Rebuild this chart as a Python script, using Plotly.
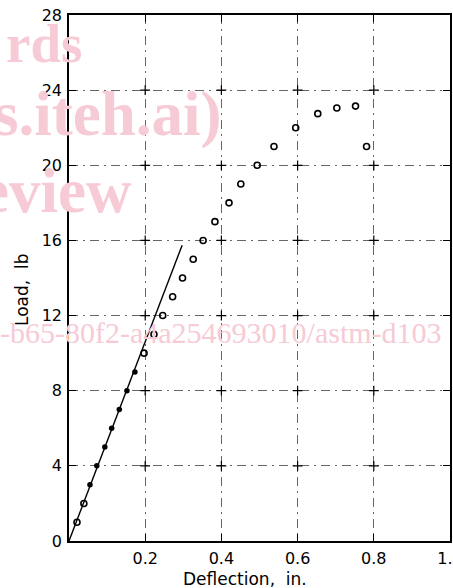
import plotly.graph_objects as go

# ---- data ----
deflection = [0.021, 0.039, 0.055, 0.073, 0.094, 0.112, 0.132, 0.152, 0.173,
              0.197, 0.223, 0.246, 0.272, 0.298, 0.326, 0.352, 0.383, 0.420,
              0.451, 0.494, 0.538, 0.595, 0.653, 0.703, 0.752, 0.781]
load = [1, 2, 3, 4, 5, 6, 7, 8, 9, 10, 11, 12, 13, 14, 15, 16, 17, 18, 19,
        20, 21, 22, 22.75, 23.05, 23.15, 21]
filled_idx = [2, 3, 4, 5, 6, 7, 8]          # points that look solid
fit_x = [0.0, 0.297]
fit_y = [0.0, 15.75]

x_ticks = [0.2, 0.4, 0.6, 0.8, 1.0]
x_tick_text = ["0.2", "0.4", "0.6", "0.8", "1.0"]
y_ticks = [0, 4, 8, 12, 16, 20, 24, 28]
y_tick_text = ["0", "4", "8", "12", "16", "20", "24", "28"]

# ---- layout geometry ----
W, H = 453, 588
L, R, T, B = 69, 3, 15, 47
PW, PH = W - L - R, H - T - B


def px_x(p):
    return (p - L) / PW


def px_y(p):
    return (H - B - p) / PH


fig = go.Figure()

# fitted straight line
fig.add_trace(go.Scatter(x=fit_x, y=fit_y, mode="lines",
                         line=dict(color="black", width=1.4),
                         hoverinfo="skip", showlegend=False))

# grid crosses
cx = [x for x in x_ticks[:-1] for y in y_ticks[1:-1]]
cy = [y for x in x_ticks[:-1] for y in y_ticks[1:-1]]
fig.add_trace(go.Scatter(x=cx, y=cy, mode="markers",
                         marker=dict(symbol="cross-thin", size=7, color="black",
                                     line=dict(color="black", width=1.2)),
                         hoverinfo="skip", showlegend=False))

# open data points
open_x = [d for i, d in enumerate(deflection) if i not in filled_idx]
open_y = [v for i, v in enumerate(load) if i not in filled_idx]
fig.add_trace(go.Scatter(x=open_x, y=open_y, mode="markers",
                         marker=dict(symbol="circle-open", size=6, color="black",
                                     line=dict(color="black", width=1.6)),
                         showlegend=False))
# filled data points
fig.add_trace(go.Scatter(x=[deflection[i] for i in filled_idx],
                         y=[load[i] for i in filled_idx], mode="markers",
                         marker=dict(symbol="circle", size=5.5, color="black"),
                         showlegend=False))

axis_common = dict(showline=True, linecolor="black", linewidth=1.6,
                   mirror="ticks", ticks="inside", ticklen=7, tickwidth=1.2,
                   tickcolor="black", showgrid=True, gridcolor="#666",
                   gridwidth=0.8, griddash="9px,5px,2px,5px", zeroline=False,
                   ticklabeloverflow="allow", automargin=False,
                   tickfont=dict(family="DejaVu Sans", size=16, color="black"))

fig.update_xaxes(range=[0, 1.0], tickvals=x_ticks, ticktext=x_tick_text,
                 ticklabelstandoff=2, **axis_common)
fig.update_yaxes(range=[0, 28], tickvals=y_ticks, ticktext=y_tick_text,
                 ticklabelstandoff=2, **axis_common)

pink = "#f6cbd5"
wm_font = "Liberation Serif"
annotations = [
    dict(text="<b>rds</b>", x=px_x(84), y=px_y(44), xanchor="right",
         yanchor="middle", font=dict(family=wm_font, size=55, color=pink)),
    dict(text="<b>s.iteh.ai)</b>", x=px_x(223), y=px_y(114), xanchor="right",
         yanchor="middle", font=dict(family=wm_font, size=63, color=pink)),
    dict(text="<b>eview</b>", x=px_x(134), y=px_y(191), xanchor="right",
         yanchor="middle", font=dict(family=wm_font, size=63, color=pink)),
    dict(text="-b65-80f2-a4a254693010/astm-d103", x=px_x(-2), y=px_y(332),
         xanchor="left", yanchor="middle",
         font=dict(family=wm_font, size=30, color=pink)),
    dict(text="Load,  lb", x=px_x(22), y=px_y(290), textangle=-90,
         xanchor="center", yanchor="middle",
         font=dict(family="DejaVu Sans", size=17, color="black")),
    dict(text="Deflection,  in.", x=px_x(245), y=px_y(579),
         xanchor="center", yanchor="middle",
         font=dict(family="DejaVu Sans", size=17, color="black")),
]
for a in annotations:
    a.update(xref="paper", yref="paper", showarrow=False)

fig.update_layout(width=W, height=H,
                  margin=dict(l=L, r=R, t=T, b=B, pad=0, autoexpand=False),
                  paper_bgcolor="white", plot_bgcolor="white",
                  annotations=annotations, showlegend=False)

fig.write_html("out.html", config={"displayModeBar": False},
               post_script="document.body.style.margin='0';"
                           "document.body.style.overflow='hidden';")
